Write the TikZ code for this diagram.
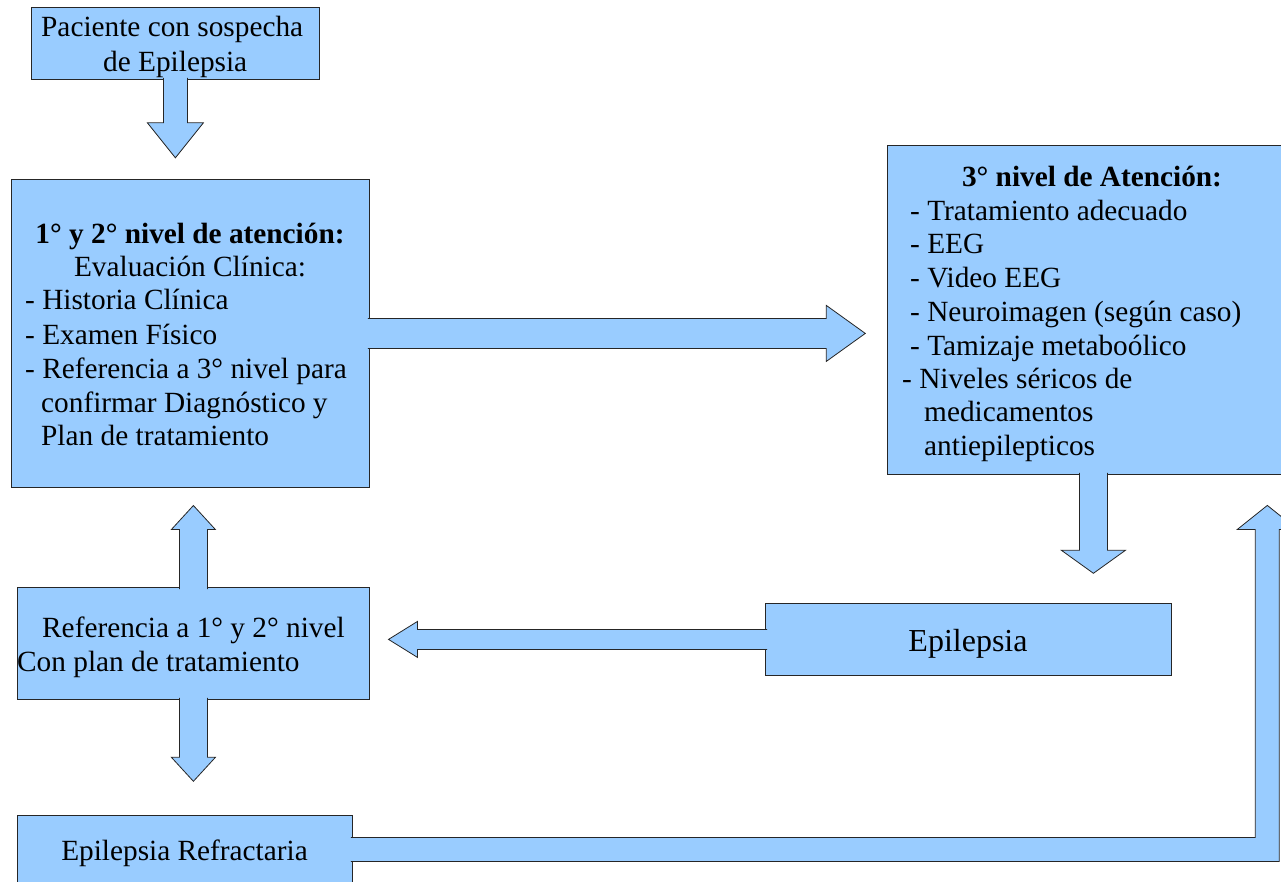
\documentclass[tikz,border=0pt]{standalone}
\usepackage{fontspec}
\setmainfont{Liberation Serif}
\definecolor{boxblue}{HTML}{99CCFF}
\tikzset{
  box/.style={draw=black!85, line width=0.8pt, fill=boxblue, anchor=north west, inner sep=0pt},
  blk/.style={draw=black!85, line width=0.8pt, fill=boxblue, line join=miter},
  txt/.style={inner sep=0pt, anchor=base west, font=\fontsize{29.3}{33.7}\selectfont},
  ctxt/.style={txt, anchor=base},
}
\begin{document}
\begin{tikzpicture}[x=1pt,y=-1pt]
  \useasboundingbox (0,0) rectangle (1281,881);
  \clip (0,0) rectangle (1281,881);
  % boxes
  \node[box, minimum width=288, minimum height=72]  (paciente)    at (31,7)    {};
  \node[box, minimum width=358, minimum height=308] (nivel12)     at (11,179)  {};
  \node[box, minimum width=410, minimum height=329] (nivel3)      at (887,145) {};
  \node[box, minimum width=406, minimum height=72]  (epilepsia)   at (765,603) {};
  \node[box, minimum width=352, minimum height=112] (referencia)  at (17,587)  {};
  \node[box, minimum width=335, minimum height=72]  (refractaria) at (17,815)  {};
  % block arrows
  \filldraw[blk] (paciente.south) ++(12,-2) -- ++(0,45) -- ++(16,0) -- ++(-28,35)
    -- ++(-28,-35) -- ++(16,0) -- ++(0,-45);
  \filldraw[blk] (nivel12.east) ++(-2,-15) -- ++(458.5,0) -- ++(0,-13) -- ++(39,28)
    -- ++(-39,28) -- ++(0,-13) -- ++(-458.5,0);
  \filldraw[blk] (nivel3.south) ++(15,-2) -- ++(0,77.5) -- ++(18,0) -- ++(-32,23)
    -- ++(-32,-23) -- ++(18,0) -- ++(0,-77.5);
  \filldraw[blk] (epilepsia.west) ++(2,-10) -- ++(-349.5,0) -- ++(0,-8) -- ++(-29,18)
    -- ++(29,18) -- ++(0,-8) -- ++(349.5,0);
  \filldraw[blk] (referencia.north) ++(14,2) -- ++(0,-59.5) -- ++(8,0) -- ++(-22,-24)
    -- ++(-22,24) -- ++(8,0) -- ++(0,59.5);
  \filldraw[blk] (referencia.south) ++(14,-2) -- ++(0,59.5) -- ++(8,0) -- ++(-22,24)
    -- ++(-22,-24) -- ++(8,0) -- ++(0,-59.5);
  \filldraw[blk] (refractaria.east) ++(-2,-14) -- ++(904.5,0) -- ++(0,-308) -- ++(-18,0)
    -- ++(30,-24) -- ++(30,24) -- ++(-18,0) -- ++(0,332) -- ++(-928.5,0);
  % texts
  \node[txt] (pac1) at (41,36) {Paciente con sospecha};
  \node[txt] (pac2) at (103,71) {de Epilepsia};
  \node[ctxt] (n12title) at (190,243) {\bfseries 1° y 2° nivel de atención:};
  \node[ctxt] (n12eval) at (190,276) {Evaluación Clínica:};
  \foreach \xx/\yy/\txt [count=\i] in {25/309.5/- Historia Clínica,
      25/344/- Examen Físico, 25/378/- Referencia a 3° nivel para,
      41/412/confirmar Diagnóstico y, 41/445.6/Plan de tratamiento}
    \node[txt] (n12line\i) at (\xx,\yy) {\txt};
  \node[ctxt] (n3title) at (1092,186) {\bfseries 3° nivel de Atención:};
  \foreach \xx/\yy/\txt [count=\i] in {910/220/- Tratamiento adecuado,
      910/253.5/- EEG, 910/287.5/- Video EEG, 910/321.5/- Neuroimagen (según caso),
      910/355/- Tamizaje metaboólico, 902/388.5/- Niveles séricos de,
      924/421.5/medicamentos, 924/455/antiepilepticos}
    \node[txt] (n3line\i) at (\xx,\yy) {\txt};
  \node[txt] (ref1) at (42,637) {Referencia a 1° y 2° nivel};
  \node[txt] (ref2) at (17,671) {Con plan de tratamiento};
  \node[ctxt, font=\fontsize{32}{36}\selectfont] (epitxt) at (968,651) {Epilepsia};
  \node[ctxt] (refrtxt) at (184.5,860) {Epilepsia Refractaria};
\end{tikzpicture}
\end{document}
